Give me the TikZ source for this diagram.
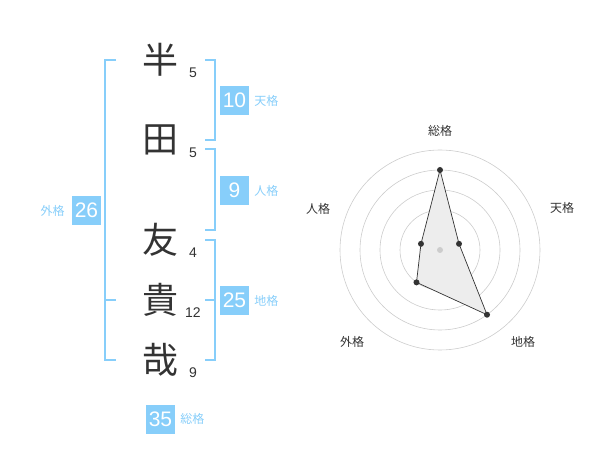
\documentclass[tikz,border=0pt]{standalone}
\usepackage{fontspec}
\setmainfont{Liberation Sans}
\newfontfamily\jpfont{Noto Sans CJK JP}
\usetikzlibrary{positioning}
\definecolor{boxblue}{HTML}{87CEFA}
\definecolor{textgray}{HTML}{333333}

\begin{document}
\begin{tikzpicture}[x=1pt, y=-1pt,
    kanji/.style={font=\jpfont\fontsize{36}{36}\selectfont, text=textgray, inner sep=0pt},
    strokes/.style={font=\fontsize{14}{14}\selectfont, text=textgray, inner sep=0pt},
    numbox/.style={fill=boxblue, text=white, minimum size=29pt, inner sep=0pt, font=\fontsize{21}{21}\selectfont},
    kaku/.style={font=\jpfont\fontsize{12}{12}\selectfont, text=boxblue, inner sep=0pt},
    bracket/.style={draw=boxblue, line width=2pt},
    ring/.style={draw=black!20, line width=0.6pt},
    axislabel/.style={font=\jpfont\fontsize{12}{12}\selectfont, text=textgray, inner sep=0pt},
    dot/.style={circle, fill=textgray, inner sep=0pt, minimum size=6pt}
]
\useasboundingbox (0,0) rectangle (600,470);

% name characters and stroke counts
\node[kanji] (han) at (160,60) {半};
\node[kanji] (ta) at (160,140) {田};
\node[kanji] (tomo) at (160,240) {友};
\node[kanji] (ki) at (160,300) {貴};
\node[kanji] (ya) at (160,360) {哉};
\node[strokes] (han-n) at (193,73) {5};
\node[strokes] (ta-n) at (193,153) {5};
\node[strokes] (tomo-n) at (193,253) {4};
\node[strokes] (ki-n) at (193,313) {12};
\node[strokes] (ya-n) at (193,373) {9};

% brackets
\draw[bracket] (205,60) -- (215,60) -- (215,140) -- (205,140);
\draw[bracket] (205,149) -- (215,149) -- (215,230) -- (205,230);
\draw[bracket] (205,240) -- (215,240) -- (215,360) -- (205,360);
\draw[bracket] (205,300) -- (215,300);
\draw[bracket] (116,60) -- (105,60) -- (105,360) -- (116,360);
\draw[bracket] (105,300) -- (116,300);

% totals
\node[numbox] (tenkaku) at (234.5,100.5) {10};
\node[kaku, right=5pt of tenkaku] (tenkaku-l) {天格};
\node[numbox] (jinkaku) at (234.5,190.5) {9};
\node[kaku, right=5pt of jinkaku] (jinkaku-l) {人格};
\node[numbox] (chikaku) at (234.5,300.5) {25};
\node[kaku, right=5pt of chikaku] (chikaku-l) {地格};
\node[numbox] (gaikaku) at (86.5,210.5) {26};
\node[kaku, left=7pt of gaikaku] (gaikaku-l) {外格};
\node[numbox] (soukaku) at (160.5,419) {35};
\node[kaku, right=5pt of soukaku] (soukaku-l) {総格};

% radar chart
\coordinate (rc) at (440,250);
\foreach \r in {20,40,60,80,100}
    \draw[ring] (rc) circle (\r pt);
\path (rc) ++(-90:80) coordinate (sou)
      (rc) ++(-18:20) coordinate (ten)
      (rc) ++(54:80) coordinate (chi)
      (rc) ++(126:40) coordinate (gai)
      (rc) ++(198:20) coordinate (jin);
\filldraw[fill=black!7, draw=textgray, line width=0.7pt] (sou) -- (ten) -- (chi) -- (gai) -- (jin) -- cycle;
\foreach \p in {sou,ten,chi,gai,jin}
    \node[dot] (\p-dot) at (\p) {};
\node[circle, fill=black!20, inner sep=0pt, minimum size=6pt] (rc-dot) at (rc) {};

\node[axislabel] (sou-l) at (440,131) {総格};
\node[axislabel] (ten-l) at (562,208) {天格};
\node[axislabel] (chi-l) at (523,342) {地格};
\node[axislabel] (gai-l) at (352,342) {外格};
\node[axislabel] (jin-l) at (318,209) {人格};
\end{tikzpicture}
\end{document}
